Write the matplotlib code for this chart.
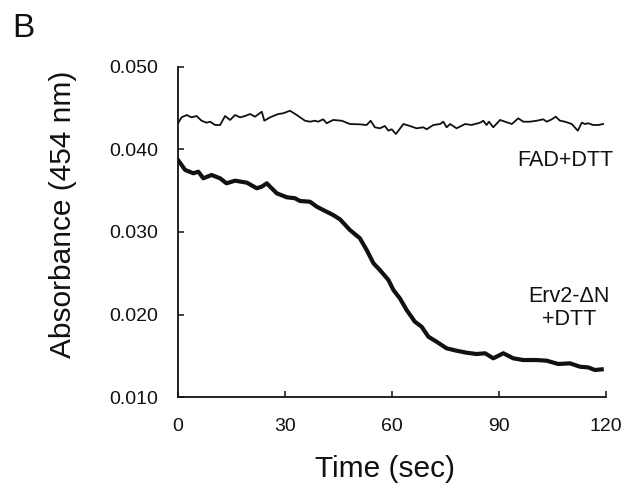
import matplotlib.pyplot as plt
import numpy as np

plt.rcParams['font.family'] = ['Liberation Sans', 'DejaVu Sans']

# FAD+DTT trace (time in sec, absorbance)
fad_t = [0, 1.0, 2.4, 3.8, 5.2, 6.6, 8.0, 9.0, 10.4, 11.8, 13.2, 14.6, 16.0, 17.4,
         18.8, 20.2, 21.6, 23.5, 24.2, 25.8, 28.1, 29.5, 31.4, 33.3, 35.6, 37.0,
         38.4, 39.3, 40.7, 41.7, 43.5, 45.9, 48.2, 51.0, 52.9, 54.0, 55.2, 56.6,
         58.0, 59.0, 59.9, 61.1, 63.2, 65.0, 66.9, 68.8, 69.7, 71.6, 73.5, 74.4,
         75.3, 76.3, 78.1, 80.5, 82.3, 84.7, 85.6, 86.5, 87.2, 88.4, 90.3, 91.7,
         93.6, 95.4, 96.8, 98.7, 100.6, 102.4, 103.4, 104.8, 105.9, 107.1, 108.5,
         110.4, 112.1, 113.2, 114.1, 115.0, 116.4, 117.8, 119.2]
fad_a = [0.04318, 0.04390, 0.04418, 0.04390, 0.04406, 0.04349, 0.04325, 0.04337,
         0.04297, 0.04297, 0.04406, 0.04358, 0.04418, 0.04390, 0.04406, 0.04430,
         0.04398, 0.04458, 0.04349, 0.04390, 0.04430, 0.04439, 0.04470, 0.04418,
         0.04349, 0.04337, 0.04349, 0.04337, 0.04366, 0.04318, 0.04358, 0.04349,
         0.04309, 0.04305, 0.04297, 0.04349, 0.04269, 0.04257, 0.04285, 0.04228,
         0.04245, 0.04188, 0.04309, 0.04285, 0.04257, 0.04269, 0.04245, 0.04297,
         0.04309, 0.04337, 0.04269, 0.04309, 0.04257, 0.04309, 0.04297, 0.04325,
         0.04349, 0.04297, 0.04337, 0.04269, 0.04358, 0.04337, 0.04309, 0.04378,
         0.04337, 0.04337, 0.04349, 0.04366, 0.04337, 0.04366, 0.04398, 0.04349,
         0.04337, 0.04309, 0.04228, 0.04325, 0.04309, 0.04318, 0.04297, 0.04297,
         0.04309]

# Erv2-dN + DTT trace
erv_t = [0, 2.0, 4.3, 5.7, 7.1, 9.4, 11.8, 13.6, 16.0, 19.3, 22.1, 23.5, 24.9,
         25.8, 27.7, 30.5, 32.8, 34.2, 37.0, 38.9, 40.7, 43.5, 45.4, 48.2, 51.0,
         52.9, 54.8, 56.6, 59.0, 60.4, 62.2, 64.1, 66.4, 68.3, 70.2, 72.5, 75.3,
         78.1, 80.9, 83.7, 86.1, 88.4, 91.2, 94.0, 96.8, 100.6, 103.4, 106.6,
         109.9, 112.7, 115.0, 116.9, 118.8]
erv_a = [0.03873, 0.03752, 0.03712, 0.03731, 0.03651, 0.03691, 0.03651, 0.03590,
         0.03622, 0.03598, 0.03530, 0.03550, 0.03590, 0.03550, 0.03469, 0.03421,
         0.03409, 0.03376, 0.03367, 0.03307, 0.03267, 0.03206, 0.03154, 0.03024,
         0.02924, 0.02782, 0.02621, 0.02539, 0.02418, 0.02297, 0.02196, 0.02055,
         0.01913, 0.01852, 0.01731, 0.01670, 0.01590, 0.01561, 0.01537, 0.01521,
         0.01530, 0.01469, 0.01530, 0.01469, 0.01448, 0.01448, 0.01440, 0.01400,
         0.01408, 0.01367, 0.01359, 0.01327, 0.01335]

x_ticks = [0, 30, 60, 90, 120]
y_ticks = [0.010, 0.020, 0.030, 0.040, 0.050]
y_ticklabels = ['0.010', '0.020', '0.030', '0.040', '0.050']

ink = '#111111'

fig = plt.figure(figsize=(6.24, 4.92), dpi=100)
ax = fig.add_axes([178 / 624, 1 - 397 / 492, 428 / 624, 330 / 492])

ax.plot(fad_t, fad_a, color=ink, lw=1.3)
ax.plot(erv_t, erv_a, color=ink, lw=3.0)

ax.set_xlim(0, 120)
ax.set_ylim(0.010, 0.050)
ax.set_xticks(x_ticks)
ax.set_yticks(y_ticks)
ax.set_yticklabels(y_ticklabels)

for s in ['top', 'right']:
    ax.spines[s].set_visible(False)
for s in ['left', 'bottom']:
    ax.spines[s].set_linewidth(1.3)
    ax.spines[s].set_color(ink)

ax.tick_params(axis='y', direction='in', length=4, width=1.1, pad=14.5,
               labelsize=14, colors=ink)
ax.tick_params(axis='x', direction='in', length=4, width=1.1, pad=15,
               labelsize=14, colors=ink)

ax.text(108.6, 0.0387, 'FAD+DTT', fontsize=15.5, ha='center', va='center',
        color=ink)
ax.text(109.6, 0.0208, 'Erv2-ΔN\n+DTT', fontsize=15.5, ha='center', va='center',
        color=ink, linespacing=1.15)

fig.text(63 / 624, 1 - 214 / 492, 'Absorbance (454 nm)', rotation=90,
         fontsize=21.5, ha='center', va='center', color=ink)
fig.text(385 / 624, 1 - 469 / 492, 'Time (sec)', fontsize=21.5,
         ha='center', va='center', color=ink)
fig.text(12 / 624, 1 - 36.7 / 492, 'B', fontsize=24, ha='left',
         va='baseline', color=ink)

fig.savefig('out.png', dpi=100)
